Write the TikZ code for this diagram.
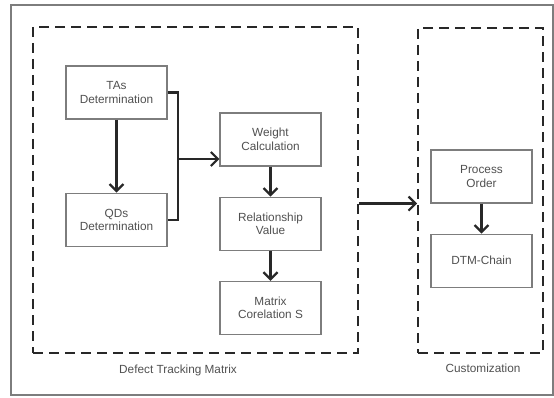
\documentclass[tikz,border=0pt]{standalone}
\usepackage{fontspec}
\setmainfont{Liberation Sans}
\usepackage{tikz}
\usetikzlibrary{arrows.meta,arrows}
\usetikzlibrary{positioning}
\definecolor{boxgray}{RGB}{125,125,125}
\definecolor{textgray}{RGB}{80,80,80}
\definecolor{linedark}{RGB}{40,40,40}

\begin{document}
\begin{tikzpicture}[x=1pt,y=-1pt,>={Straight Barb[length=7pt,width=14pt]},node distance=30pt,semithick]
 \tikzstyle{step node}=[rectangle,draw=boxgray,line width=1.2pt,minimum width=101pt,minimum height=53pt,align=center,inner sep=2pt,text=textgray,font=\fontsize{11.8}{13.5}\selectfont]
 \tikzstyle{group node}=[rectangle,draw=linedark,dash pattern=on 10pt off 6pt,line width=1.8pt,inner sep=0pt]
 \tikzset{
 	caption node/.style={text=textgray,font=\fontsize{11.8}{13.5}\selectfont},
 	flow/.style={->,color=linedark,line width=2.2pt}
 }

 \useasboundingbox (0,0) rectangle (554,398);
 \draw[boxgray,line width=1.5pt] (11,5) rectangle (553,395);

       \node[group node,minimum width=325pt,minimum height=326pt] (dtm) at (195.5,190) {};
       \node[group node,minimum width=125pt,minimum height=325pt] (cust) at (480.5,190.5) {};

       \node[step node] (ta) at (116.5,92.5) {TAs\\Determination};
       \node[step node] (qd) [below=73pt of ta] {QDs\\Determination};
       \node[step node] (wc) at (270.5,139.5) {Weight\\Calculation};
       \node[step node] (rv) [below=of wc] {Relationship\\Value};
       \node[step node] (mc) [below=of rv] {Matrix\\Corelation S};
       \node[step node] (po) at (481.5,176.5) {Process\\Order};
       \node[step node] (dc) [below=of po] {DTM-Chain};

       \node[caption node] (dtm label) at (178,370) {Defect Tracking Matrix};
       \node[caption node] (cust label) at (483,368) {Customization};

       \coordinate (join) at (178,159);
       \draw[linedark,line width=2.2pt] (ta.east) -| (join) |- (qd.east);

     \path[flow]  (join) edge (join -| wc.west);
     \path[flow]  (ta) edge (qd);
     \path[flow]  (wc) edge (rv);
     \path[flow]  (rv) edge (mc);
     \path[flow]  (po) edge (dc);
     \path[flow]  (dtm.east |- po.south) edge (cust.west |- po.south);
 \end{tikzpicture}
\end{document}
